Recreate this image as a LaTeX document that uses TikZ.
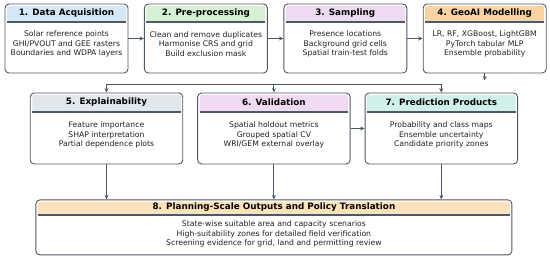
\documentclass[tikz,border=0pt]{standalone}
\usepackage{fontspec}
\setmainfont{DejaVu Sans}
\usetikzlibrary{positioning, arrows.meta}
\usepackage{xcolor}
\definecolor{edgegray}{HTML}{4D5964}
\definecolor{inkgray}{HTML}{222222}
\definecolor{headblue}{HTML}{D4E8F7}
\definecolor{headgreen}{HTML}{D6F0D4}
\definecolor{headlilac}{HTML}{EEDAF2}
\definecolor{headorange}{HTML}{FAD3A2}
\definecolor{headgray}{HTML}{E2E7EC}
\definecolor{headpink}{HTML}{F2DAF2}
\definecolor{headteal}{HTML}{D0F0E9}
\definecolor{headsand}{HTML}{FDE2BC}
\tikzstyle{stage}    = [rectangle, rounded corners=4pt, draw=edgegray, line width=0.9pt, fill=white, inner sep=0pt]
\tikzstyle{topstage} = [stage, minimum width=123pt, minimum height=69pt]
\tikzstyle{midstage} = [stage, minimum width=152.5pt, minimum height=71pt]
\tikzstyle{title}    = [inner sep=0pt, text=black, font=\bfseries\fontsize{8.8}{10}\selectfont]
\tikzstyle{body}     = [inner sep=0pt, align=center, text=inkgray, font=\fontsize{7.7}{9.3}\selectfont]
\tikzstyle{arrow}    = [line width=0.9pt, draw=edgegray, -{Stealth[length=4.5pt, width=4pt]}]
\tikzset{
  head/.style 2 args={path picture={
    \fill[#1, rounded corners=1.5pt] ([xshift=2pt, yshift=-2pt]path picture bounding box.north west) rectangle ([xshift=-2pt, yshift=-#2]path picture bounding box.north east);
    \draw[edgegray, line width=1.3pt, sharp corners] ([xshift=2pt, yshift=-#2]path picture bounding box.north west) -- ([xshift=-2pt, yshift=-#2]path picture bounding box.north east);
  }}
}

\begin{document}
\begin{tikzpicture}[x=1pt, y=1pt]
        \useasboundingbox (0,0) rectangle (550,258);

        % top row
        \node (acq)   [topstage, head={headblue}{18pt}] at (66.5,219.5) {};
        \node (pre)   [topstage, head={headgreen}{18pt}, right=15.5pt of acq]  {};
        \node (samp)  [topstage, head={headlilac}{18pt}, right=15.5pt of pre]  {};
        \node (model) [topstage, head={headorange}{18pt}, right=15.5pt of samp] {};

        \node (acqt)   [title] at ([yshift=-9.5pt]acq.north)   {1. Data Acquisition};
        \node (pret)   [title] at ([yshift=-9.5pt]pre.north)   {2. Pre-processing};
        \node (sampt)  [title] at ([yshift=-9.5pt]samp.north)  {3. Sampling};
        \node (modelt) [title] at ([yshift=-9.5pt]model.north) {4. GeoAI Modelling};

        \node (acqb)   [body] at ([yshift=-5.5pt]acq.center)   {Solar reference points\\GHI/PVOUT and GEE rasters\\Boundaries and WDPA layers};
        \node (preb)   [body] at ([yshift=-5.5pt]pre.center)   {Clean and remove duplicates\\Harmonise CRS and grid\\Build exclusion mask};
        \node (sampb)  [body] at ([yshift=-5.5pt]samp.center)  {Presence locations\\Background grid cells\\Spatial train-test folds};
        \node (modelb) [body] at ([yshift=-5.5pt]model.center) {LR, RF, XGBoost, LightGBM\\PyTorch tabular MLP\\Ensemble probability};

        % middle row
        \node (expl) [midstage, head={headgray}{19pt}] at (106.5,129.5) {};
        \node (val)  [midstage, head={headpink}{19pt}, right=14pt of expl] {};
        \node (pred) [midstage, head={headteal}{19pt}, right=14pt of val]  {};

        \node (explt) [title] at ([yshift=-10pt]expl.north) {5. Explainability};
        \node (valt)  [title] at ([yshift=-10pt]val.north)  {6. Validation};
        \node (predt) [title] at ([yshift=-10pt]pred.north) {7. Prediction Products};

        \node (explb) [body] at ([yshift=-6.5pt]expl.center) {Feature importance\\SHAP interpretation\\Partial dependence plots};
        \node (valb)  [body] at ([yshift=-6.5pt]val.center)  {Spatial holdout metrics\\Grouped spatial CV\\WRI/GEM external overlay};
        \node (predb) [body] at ([yshift=-6.5pt]pred.center) {Probability and class maps\\Ensemble uncertainty\\Candidate priority zones};

        % bottom
        \node (plan)  [stage, minimum width=476pt, minimum height=55pt, head={headsand}{15pt}, below=35pt of val] {};
        \node (plant) [title] at ([yshift=-8pt]plan.north) {8. Planning-Scale Outputs and Policy Translation};
        \node (planb) [body] at ([yshift=-6.5pt]plan.center) {State-wise suitable area and capacity scenarios\\High-suitability zones for detailed field verification\\Screening evidence for grid, land and permitting review};

        % connectors
        \draw [arrow] (acq)  -- (pre);
        \draw [arrow] (pre)  -- (samp);
        \draw [arrow] (samp) -- (model);
        \coordinate (modelout) at ([yshift=-7pt]model.south);
        \draw [arrow] (model.south) -- (modelout);
        \coordinate (fork) at ([yshift=-11pt]model.south);
        \draw [line width=0.9pt, draw=edgegray] (expl.north |- fork) -- (pred.north |- fork);
        \draw [arrow] (expl.north |- fork) -- (expl.north);
        \draw [arrow] (val.north |- fork)  -- (val.north);
        \draw [arrow] (pred.north |- fork) -- (pred.north);
        \draw [arrow] (val) -- (pred);
        \draw [arrow] (expl.south) -- (expl.south |- plan.north);
        \draw [arrow] (val.south)  -- (plan.north);
        \draw [arrow] (pred.south) -- (pred.south |- plan.north);
    \end{tikzpicture}
\end{document}
